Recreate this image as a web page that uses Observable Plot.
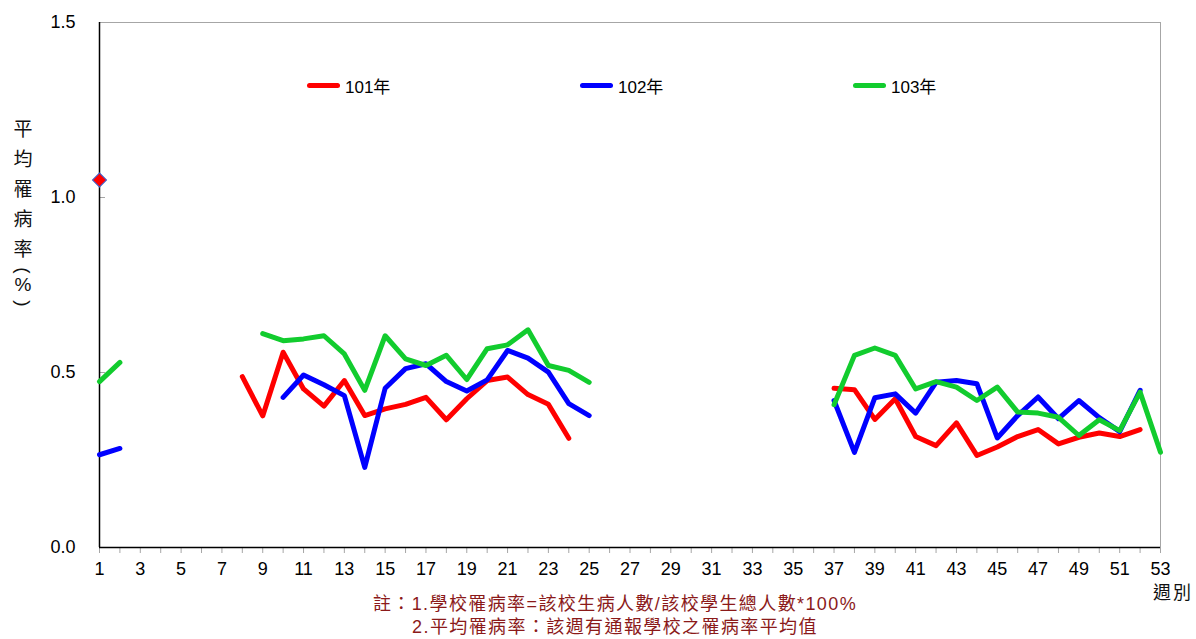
<!DOCTYPE html>
<html>
<head>
<meta charset="utf-8">
<script src="https://cdn.jsdelivr.net/npm/d3@7"></script>
<script src="https://cdn.jsdelivr.net/npm/@observablehq/plot@0.6"></script>
<style>
  body { margin: 0; background: #fff; font-family: "Liberation Sans", Arial, sans-serif; }
  #wrap { position: relative; width: 1196px; height: 639px; overflow: hidden; }
  #chart svg { display: block; overflow: visible; }
  .ytitle { position: absolute; left: 11px; top: 113px; width: 24px; text-align: center;
            font-family: "Noto Sans CJK TC", sans-serif; font-size: 19px; color: #111; }
  .ytitle div { line-height: 30px; height: 30px; }
  .ytitle .par { height: 11px; line-height: 11px; }
  .ytitle .par span { display: inline-block; transform: rotate(90deg); font-family: "Liberation Sans", sans-serif; }
  .ytitle .pct { height: 22px; line-height: 22px; font-family: "Liberation Sans", sans-serif; font-size: 19px; }
  .xtitle { position: absolute; left: 1153px; top: 578px; font-family: "Noto Sans CJK TC", sans-serif;
            font-size: 18px; color: #111; letter-spacing: 2px; }
  .legend-item { position: absolute; top: 74px; height: 22px; display: flex; align-items: center;
                 font-size: 17px; color: #000; }
  .legend-item .sw { width: 33px; height: 5px; border-radius: 3px; margin-right: 5px; }
  .legend-item .lab { font-family: "Liberation Sans", "Noto Sans CJK TC", sans-serif; }
  .note { position: absolute; left: 34px; top: 593px; width: 1162px; text-align: center; color: #8b1a1a;
          font-family: "Liberation Sans", "Noto Sans CJK TC", sans-serif; font-size: 18px; line-height: 23px; letter-spacing: 1.4px; }
</style>
</head>
<body>
<div id="wrap">
  <div id="chart"></div>
  <div class="ytitle">
    <div>平</div><div>均</div><div>罹</div><div>病</div><div>率</div>
    <div class="par"><span>(</span></div>
    <div class="pct">%</div>
    <div class="par"><span>)</span></div>
  </div>
  <div class="xtitle">週別</div>
  <div id="legend"></div>
  <div class="note">註：1.學校罹病率=該校生病人數/該校學生總人數*100%<br>2.平均罹病率：該週有通報學校之罹病率平均值</div>
</div>
<script>
// Weeks of the school year (x categories)
const weeks = [1, 2, 3, 4, 5, 6, 7, 8, 9, 10, 11, 12, 13, 14, 15, 16, 17, 18, 19, 20,
  21, 22, 23, 24, 25, 26, 27, 28, 29, 30, 31, 32, 33, 34, 35, 36, 37, 38, 39, 40,
  41, 42, 43, 44, 45, 46, 47, 48, 49, 50, 51, 52, 53];

// Odd weeks carry a label
const xTickLabels = [1, 3, 5, 7, 9, 11, 13, 15, 17, 19, 21, 23, 25, 27, 29, 31, 33, 35,
  37, 39, 41, 43, 45, 47, 49, 51, 53];
const yTicks = [0, 0.5, 1.0, 1.5];

const seriesNames = ["101年", "102年", "103年"];
const seriesColors = ["#ff0000", "#0000ff", "#12cc2e"];

// Average absence rate (%) per week, null = no report
const rate101 = [1.05, null, null, null, null, null, null, 0.488, 0.376, 0.558,
  0.453, 0.404, 0.477, 0.377, 0.396, 0.409, 0.429, 0.365, 0.425, 0.477,
  0.487, 0.437, 0.409, 0.312, null, null, null, null, null, null,
  null, null, null, null, null, null, 0.455, 0.451, 0.366, 0.425,
  0.317, 0.291, 0.356, 0.263, 0.287, 0.317, 0.337, 0.296, 0.315, 0.327,
  0.317, 0.337, null];

const rate102 = [0.265, 0.283, null, null, null, null, null, null, null, 0.429,
  0.493, 0.465, 0.434, 0.229, 0.455, 0.511, 0.525, 0.474, 0.447, 0.479,
  0.563, 0.541, 0.501, 0.411, 0.377, null, null, null, null, null,
  null, null, null, null, null, null, 0.420, 0.272, 0.428, 0.439,
  0.384, 0.472, 0.477, 0.468, 0.313, 0.377, 0.430, 0.368, 0.420, 0.371,
  0.331, 0.449, null];

const rate103 = [0.474, 0.529, null, null, null, null, null, null, 0.611, 0.591,
  0.596, 0.605, 0.553, 0.449, 0.605, 0.539, 0.520, 0.549, 0.480, 0.568,
  0.579, 0.622, 0.520, 0.506, 0.472, null, null, null, null, null,
  null, null, null, null, null, null, 0.408, 0.549, 0.570, 0.549,
  0.453, 0.474, 0.458, 0.420, 0.458, 0.387, 0.384, 0.372, 0.320, 0.365,
  0.334, 0.444, 0.272];

const seriesValues = [rate101, rate102, rate103];

// Long-format table for Plot
const table = [];
seriesValues.forEach((vals, s) => {
  weeks.forEach((w, i) => table.push({ week: w, rate: vals[i], series: seriesNames[s] }));
});

// Points with no neighbours are shown as markers (a line cannot draw them)
const isolated = [];
seriesValues.forEach((vals, s) => {
  vals.forEach((v, i) => {
    if (v == null) return;
    const prev = i > 0 ? vals[i - 1] : null;
    const next = i < vals.length - 1 ? vals[i + 1] : null;
    if (prev == null && next == null) isolated.push({ week: weeks[i], rate: v, series: seriesNames[s] });
  });
});

const W = 1196, H = 593;
const mL = 99, mR = 36, mT = 22, mB = 46;

const chart = Plot.plot({
  width: W,
  height: H,
  marginLeft: mL,
  marginRight: mR,
  marginTop: mT,
  marginBottom: mB,
  style: { fontFamily: "'Liberation Sans', Arial, sans-serif", fontSize: "18px", color: "#000", background: "#fff" },
  x: { domain: [1, 53] },
  y: { domain: [0, 1.5] },
  color: { domain: seriesNames, range: seriesColors },
  marks: [
    Plot.frame({ stroke: "#a6a6a6" }),
    // small inward ticks on the value axis
    Plot.ruleY(yTicks.filter(d => d > 0 && d < 1.5), { y: d => d, stroke: "#a6a6a6", insetRight: W - mL - mR - 6 }),
    // week ticks below the axis
    Plot.axisX(weeks, { tickSize: 6, stroke: "#a6a6a6", tickFormat: () => "", label: null }),
    Plot.axisX(xTickLabels, { tickSize: 0, tickPadding: 15, tickFormat: d => String(d), label: null, fontSize: 18 }),
    Plot.axisY(yTicks, { tickSize: 0, tickPadding: 24, tickFormat: d3.format(".1f"), label: null, fontSize: 18 }),
    Plot.ruleY([0], { stroke: "#000", strokeWidth: 1.5 }),
    Plot.ruleX([1], { stroke: "#000", strokeWidth: 1.5 }),
    Plot.line(table, {
      x: "week", y: "rate", z: "series", stroke: "series",
      strokeWidth: 5, strokeLinecap: "round", strokeLinejoin: "round"
    }),
    Plot.dot(isolated, {
      x: "week", y: "rate", fill: "series", symbol: "square", rotate: 45, r: 5.6,
      stroke: "#3a5fcd", strokeWidth: 1
    })
  ]
});
document.getElementById("chart").appendChild(chart);

// Legend placed inside the plot area
const legendX = [307, 580, 853];
const legend = document.getElementById("legend");
seriesNames.forEach((name, i) => {
  const item = document.createElement("div");
  item.className = "legend-item";
  item.style.left = legendX[i] + "px";
  const sw = document.createElement("span");
  sw.className = "sw";
  sw.style.background = seriesColors[i];
  const lab = document.createElement("span");
  lab.className = "lab";
  lab.textContent = name;
  item.appendChild(sw);
  item.appendChild(lab);
  legend.appendChild(item);
});
</script>
</body>
</html>
